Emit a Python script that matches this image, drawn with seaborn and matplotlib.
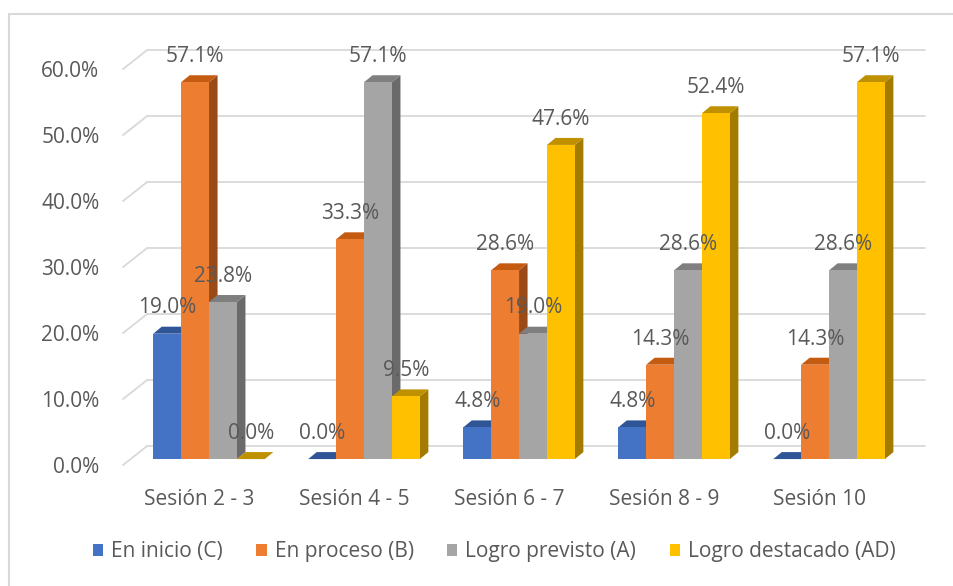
import pandas as pd
import seaborn as sns
import matplotlib.pyplot as plt
from matplotlib.patches import Polygon, Patch
from matplotlib.lines import Line2D
from matplotlib.transforms import ScaledTranslation

# Datos del gráfico
sesiones = ["Sesión 2 - 3", "Sesión 4 - 5", "Sesión 6 - 7", "Sesión 8 - 9", "Sesión 10"]
niveles = ["En inicio (C)", "En proceso (B)", "Logro previsto (A)", "Logro destacado (AD)"]
en_inicio = [19.0, 0.0, 4.8, 4.8, 0.0]
en_proceso = [57.1, 33.3, 28.6, 14.3, 14.3]
logro_previsto = [23.8, 57.1, 19.0, 28.6, 28.6]
logro_destacado = [0.0, 9.5, 47.6, 52.4, 57.1]
ticks_y = [0, 10, 20, 30, 40, 50, 60]

colores = ["#4472C4", "#ED7D31", "#A5A5A5", "#FFC000"]
colores_top = ["#2F5597", "#C55A11", "#7F7F7F", "#BF9000"]
colores_lado = ["#2E4F8C", "#9A4A16", "#6A6A6A", "#A37B00"]
gris_texto = "#595959"
gris_linea = "#D9D9D9"
fs = 15

df = pd.DataFrame({
    "sesion": sesiones * 4,
    "nivel": [n for n in niveles for _ in sesiones],
    "valor": en_inicio + en_proceso + logro_previsto + logro_destacado,
})

sns.set_style("white")
plt.rcParams["font.family"] = ["Open Sans", "DejaVu Sans"]

fig = plt.figure(figsize=(9.54, 5.86), dpi=100)
ax = fig.add_axes([123 / 954, 119 / 586, 802 / 954, 420.4 / 586])

sns.barplot(data=df, x="sesion", y="valor", hue="nivel", order=sesiones,
            hue_order=niveles, palette=colores, width=0.72, saturation=1,
            dodge=True, legend=False, ax=ax, linewidth=0)

ax.set_xlim(-0.555, 4.619)
ax.set_ylim(-1.2, 62.5)

# profundidad 3D de las barras (en unidades de datos)
dx, dy = 0.055, 1.06
# desplazamiento de la pared del fondo
back_x, back_dy = -0.4, 1.97

# cuadrícula en perspectiva
x0 = ax.get_xlim()[0]
x1 = ax.get_xlim()[1]
for v in ticks_y:
    ax.plot([back_x, x1], [v + back_dy, v + back_dy], color=gris_linea, lw=1.3, zorder=0, clip_on=False)
    ax.plot([x0, back_x], [v - 0.91, v + back_dy], color=gris_linea, lw=1.3, zorder=0, clip_on=False)

# caras 3D de cada barra
barras = []
for j, cont in enumerate(ax.containers):
    for p in cont.patches:
        barras.append((p, j))
barras.sort(key=lambda b: b[0].get_x())

for k, (p, j) in enumerate(barras):
    x = p.get_x()
    w = p.get_width()
    h = p.get_height()
    z = 2 + k * 3
    lado = Polygon([(x + w, 0), (x + w + dx, dy), (x + w + dx, h + dy), (x + w, h)],
                   closed=True, facecolor=colores_lado[j], edgecolor="none", zorder=z)
    techo = Polygon([(x, h), (x + dx, h + dy), (x + w + dx, h + dy), (x + w, h)],
                    closed=True, facecolor=colores_top[j], edgecolor="none", zorder=z + 1)
    ax.add_patch(lado)
    ax.add_patch(techo)
    p.set_zorder(z + 2)
    ax.annotate(f"{h:.1f}%", (x + w / 2, h), xytext=(0, 18.5), textcoords="offset points",
                ha="center", va="center", fontsize=fs, color=gris_texto, zorder=200)

# ejes
sns.despine(ax=ax, left=True, bottom=True)
ax.grid(False)
ax.set_xlabel("")
ax.set_ylabel("")
ax.set_yticks(ticks_y)
ax.set_yticklabels([f"{v:.1f}%" for v in ticks_y])
ax.tick_params(axis="y", length=0, pad=17, labelsize=fs, labelcolor=gris_texto)
ax.tick_params(axis="x", length=0, pad=16, labelsize=fs, labelcolor=gris_texto)
for lab in ax.get_yticklabels():
    lab.set_transform(lab.get_transform() + ScaledTranslation(0, -6 / 100, fig.dpi_scale_trans))
for lab in ax.get_xticklabels():
    lab.set_transform(lab.get_transform() + ScaledTranslation(-10 / 100, 0, fig.dpi_scale_trans))

# leyenda
handles = [Patch(facecolor=c, edgecolor="none") for c in colores]
fig.legend(handles, niveles, loc="center", bbox_to_anchor=(0.518, 1 - 552 / 586), ncol=4,
           frameon=False, fontsize=fs, labelcolor=gris_texto, handlelength=0.5,
           handleheight=0.55, handletextpad=0.38, columnspacing=1.6)

# borde del gráfico (sólo se ven el lado izquierdo y el superior)
bx, by = 9 / 954, 1 - 14 / 586
fig.add_artist(Line2D([bx, 1.0], [by, by], transform=fig.transFigure, color=gris_linea, lw=1.5))
fig.add_artist(Line2D([bx, bx], [0.0, by], transform=fig.transFigure, color=gris_linea, lw=1.5))

fig.savefig("out.png", dpi=100)
